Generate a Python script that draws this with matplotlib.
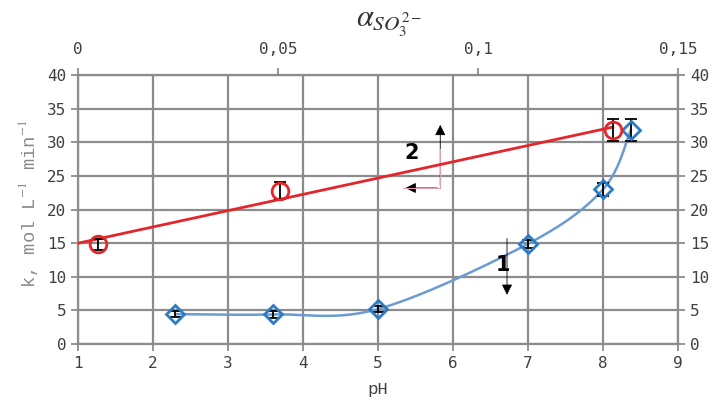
import numpy as np
import matplotlib.pyplot as plt

plt.rcParams['mathtext.fontset'] = 'stix'

# curve 1: k vs pH (bottom axis)
ph = [2.3, 3.6, 5.0, 7.0, 8.0, 8.37]
k1 = [4.45, 4.4, 5.2, 14.9, 23.0, 31.8]
k1_err = [0.5, 0.5, 0.5, 0.6, 1.0, 1.6]

# curve 2: k vs alpha SO3(2-) (top axis)
alpha = [0.005, 0.0505, 0.1337]
k2 = [14.8, 22.8, 31.8]
k2_err = [0.8, 1.3, 1.6]

xticks_ph = [1, 2, 3, 4, 5, 6, 7, 8, 9]
yticks_k = [0, 5, 10, 15, 20, 25, 30, 35, 40]
xticks_alpha = [0, 0.05, 0.1, 0.15]
xticklabels_alpha = ['0', '0,05', '0,1', '0,15']

grid_c = '#8c8c8c'
txt_c = '#404040'
lab_c = '#8a8a8a'
red = '#e3262a'
blue_m = '#2b7bc6'
blue_l = '#6b9bd0'


def smooth(xs, ys, sx, sy, n=40):
    # excel-like smoothed line (cardinal bezier), done in screen-scaled units
    X = np.array(xs) * sx
    Y = np.array(ys) * sy
    P = np.column_stack([X, Y])
    out = []
    for i in range(len(P) - 1):
        p0 = P[i - 1] if i > 0 else P[i]
        p1 = P[i]
        p2 = P[i + 1]
        p3 = P[i + 2] if i + 2 < len(P) else P[i + 1]
        c1 = p1 + (p2 - p0) / 6
        c2 = p2 - (p3 - p1) / 6
        t = np.linspace(0, 1, n)[:, None]
        seg = (1 - t) ** 3 * p1 + 3 * (1 - t) ** 2 * t * c1 + 3 * (1 - t) * t ** 2 * c2 + t ** 3 * p2
        out.append(seg)
    out = np.vstack(out)
    return out[:, 0] / sx, out[:, 1] / sy


fig = plt.figure(figsize=(7.24, 4.13), dpi=100)
ax = fig.add_axes([0.1077, 0.167, 0.8288, 0.6514])
ax.set_xlim(1, 9)
ax.set_ylim(0, 40)
ax.set_xticks(xticks_ph)
ax.set_yticks(yticks_k)
ax.grid(True, color=grid_c, lw=1.6)
ax.set_axisbelow(True)
for s in ax.spines.values():
    s.set_color(grid_c)
    s.set_linewidth(1.6)
ax.tick_params(colors=grid_c, labelcolor=txt_c, labelsize=11.5, length=5, width=1.3,
               right=True, labelright=True)
for lb in ax.get_xticklabels() + ax.get_yticklabels():
    lb.set_family('DejaVu Sans Mono')
ax.set_xlabel('pH', family='Liberation Mono', fontsize=12.5, color=txt_c, labelpad=8)
ax.set_ylabel('k, mol L$^{-1}$ min$^{-1}$', family='Liberation Mono', fontsize=13.5,
              color=lab_c)
ax.yaxis.set_label_coords(-0.063, 0.52)

# curve 1
sx, sy = 75.0, 6.725
xs, ys = smooth(ph, k1, sx, sy)
ax.plot(xs, ys, color=blue_l, lw=1.8, zorder=3)
ax.errorbar(ph, k1, yerr=k1_err, fmt='none', ecolor='black', elinewidth=1.3,
            capsize=4, capthick=1.3, zorder=4)
ax.plot(ph, k1, ls='none', marker='D', ms=9, mfc='none', mec=blue_m, mew=2, zorder=5)

# top axis, curve 2
ax2 = ax.twiny()
ax2.set_xlim(0, 0.15)
ax2.set_xticks(xticks_alpha)
ax2.set_xticklabels(xticklabels_alpha, family='DejaVu Sans Mono')
ax2.tick_params(colors=grid_c, labelcolor=txt_c, labelsize=11.5, length=5, width=1.3, pad=8)
for s in ax2.spines.values():
    s.set_visible(False)

coef = np.polyfit(alpha, k2, 1)
xf = np.array([0, max(alpha)])
ax2.plot(xf, np.polyval(coef, xf), color=red, lw=2, zorder=3)
ax2.errorbar(alpha, k2, yerr=k2_err, fmt='none', ecolor='black', elinewidth=1.3,
             capsize=4, capthick=1.3, zorder=4)
ax2.plot(alpha, k2, ls='none', marker='o', ms=12, mfc='none', mec=red, mew=2, zorder=5)

fig.text(0.538, 0.94, r'$\alpha_{SO_3^{2-}}$', ha='center', va='center', fontsize=22,
         color='#333333')

# labels with arrows
ax.text(5.45, 28.4, '2', fontsize=15, fontweight='bold', ha='center', va='center',
        color='black')
ax.plot([5.33, 5.83, 5.83], [23.2, 23.2, 29], color='#e0a0b0', lw=0.8, zorder=6)
ax.annotate('', xy=(5.83, 33.0), xytext=(5.83, 23.2),
            arrowprops=dict(arrowstyle='-|>', color='black', lw=0.6, mutation_scale=16))
ax.annotate('', xy=(5.33, 23.2), xytext=(5.83, 23.2),
            arrowprops=dict(arrowstyle='-|>', color='black', lw=0.6, mutation_scale=16))
ax.text(6.67, 11.8, '1', fontsize=15, fontweight='bold', ha='center', va='center',
        color='black')
ax.annotate('', xy=(6.72, 6.9), xytext=(6.72, 16.1),
            arrowprops=dict(arrowstyle='-|>', color='black', lw=0.6, mutation_scale=16))

fig.savefig('out.png', dpi=100)
